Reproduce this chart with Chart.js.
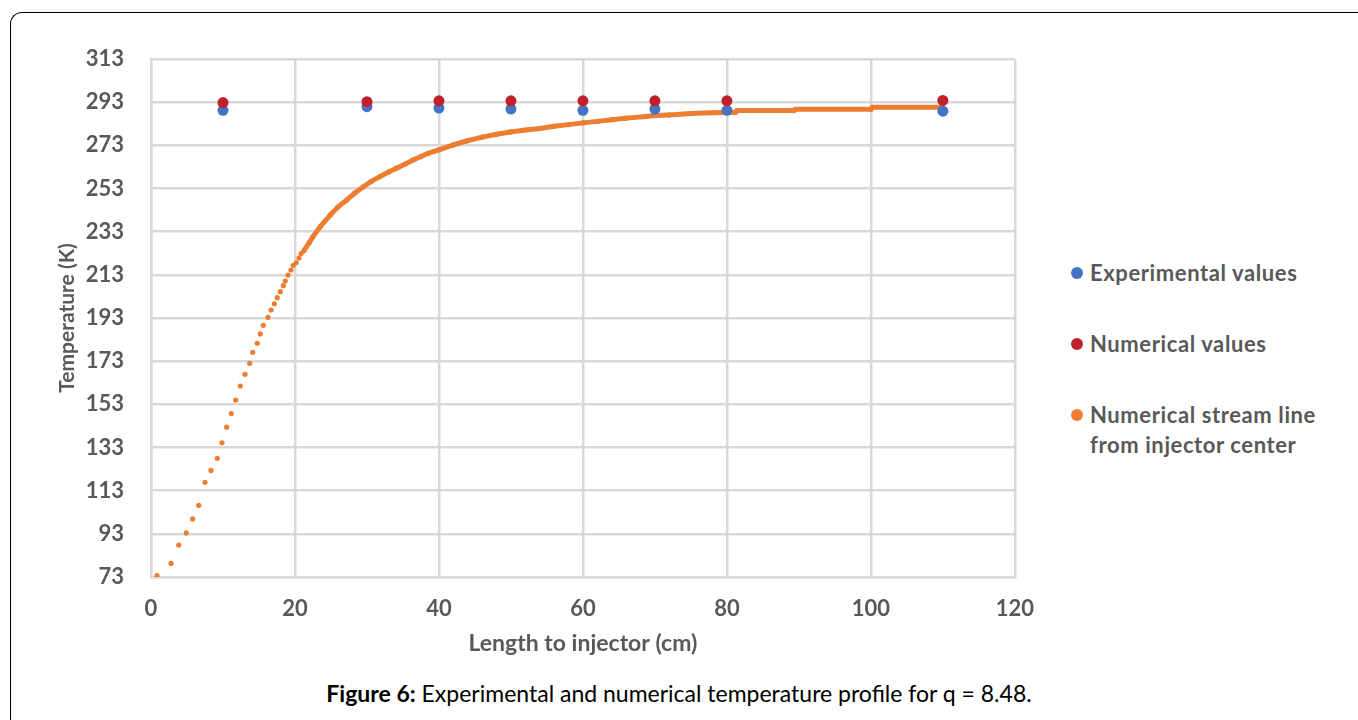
<!DOCTYPE html>
<html>
<head>
<meta charset="utf-8">
<script src="https://cdn.jsdelivr.net/npm/chart.js@4.4.1/dist/chart.umd.min.js"></script>
<style>
  html, body { margin: 0; padding: 0; background: #fff; }
  body { width: 1358px; height: 720px; position: relative; overflow: hidden; font-family: Lato, "Open Sans", sans-serif; }
  #frame { position: absolute; left: 10px; top: 12px; width: 1400px; height: 800px;
           border-top: 1.5px solid #000; border-left: 1.5px solid #000; border-top-left-radius: 12px; }
  #wrap { position: absolute; left: 0; top: 0; width: 1053px; height: 665px; }
  #legend { position: absolute; left: 1070px; top: 0; font-weight: bold; font-size: 22px; letter-spacing: 0.6px; color: #595959; }
  .item { position: absolute; left: 20px; white-space: nowrap; line-height: 30px; }
  .dot { position: absolute; left: -19px; top: 9px; width: 12px; height: 12px; border-radius: 50%; }
  #caption { position: absolute; left: 0; width: 1358px; top: 680px; text-align: center; font-size: 23px; line-height: 26px; color: #000; }
</style>
</head>
<body>
<div id="frame"></div>
<div id="wrap"><canvas id="tempChart"></canvas></div>
<div id="legend"></div>
<div id="caption"><b>Figure 6:</b> Experimental and numerical temperature profile for q = 8.48.</div>
<script>
// measurement positions (cm)
const positions = [10, 30, 40, 50, 60, 70, 80, 110];
const experimental = [289.2, 290.9, 290.3, 289.8, 289.2, 289.8, 289.2, 288.8];
const numerical = [292.8, 293.2, 293.6, 293.6, 293.6, 293.6, 293.6, 293.8];

// stream line from injector center
const streamX = [0.83, 2.78, 3.85, 4.90, 5.79, 6.63, 7.50, 8.33, 9.21, 9.86, 10.51, 11.15, 11.76, 12.40,
  13.06, 13.71, 14.13, 14.76, 15.18, 15.60, 16.25, 16.67, 17.13, 17.54, 17.96, 18.38, 18.65, 19.03,
  19.44, 19.76, 20.18, 20.56, 20.83, 21.21,
  22.0, 22.5, 23.5, 24.9, 26.0, 27.2, 28.3, 29.5, 30.6, 31.8, 33.0, 34.1, 35.3, 36.4, 37.5, 38.5,
  40.1, 42.0, 43.8, 46.0, 48.0, 49.9, 52.0, 54.0, 56.0, 58.0, 60.0, 62.0, 64.0, 66.0, 68.8, 70.0,
  72.0, 75.0, 78.0, 81.2, 81.4, 89.3, 89.5, 100.0, 100.2, 110.0];
const streamT = [73.6, 79.3, 87.8, 93.4, 99.9, 106.2, 116.9, 122.4, 128.0, 135.2, 142.4, 148.7, 155.0, 161.5,
  166.9, 172.0, 177.1, 181.3, 185.6, 189.6, 193.3, 196.7, 199.6, 202.4, 205.2, 208.0, 210.1, 212.9,
  215.2, 217.4, 218.6, 220.8, 222.8, 224.0,
  228.0, 230.7, 235.3, 240.7, 244.5, 247.7, 250.9, 253.8, 256.3, 258.5, 260.6, 262.4, 264.3, 266.2, 267.8, 269.3,
  271.0, 273.2, 275.0, 276.8, 278.1, 279.2, 280.1, 280.8, 281.8, 282.6, 283.4, 284.1, 284.9, 285.6, 286.4, 286.8,
  287.1, 287.7, 288.1, 288.3, 289.1, 289.1, 289.7, 289.7, 290.6, 290.6];

const yTicks = [73, 93, 113, 133, 153, 173, 193, 213, 233, 253, 273, 293, 313];
const xTicks = [0, 20, 40, 60, 80, 100, 120];

const seriesNames = ["Experimental values", "Numerical values", ["Numerical stream line", "from injector center"]];
const seriesColors = ["#4472C4", "#C0202A", "#ED7D31"];

const gridColor = "#D9D9D9";
const tickFont = { family: "Lato", size: 22, weight: "bold" };

new Chart(document.getElementById("tempChart"), {
    type: "scatter",
    data: {
        datasets: [{
            label: "Experimental values",
            data: positions.map((x, i) => ({ x, y: experimental[i] })),
            backgroundColor: seriesColors[0],
            pointRadius: 5.5,
            pointBorderWidth: 0,
            order: 1
        }, {
            label: "Numerical values",
            data: positions.map((x, i) => ({ x, y: numerical[i] })),
            backgroundColor: seriesColors[1],
            pointRadius: 5.5,
            pointBorderWidth: 0,
            order: 0
        }, {
            label: "Numerical stream line from injector center",
            data: streamX.map((x, i) => ({ x, y: streamT[i] })),
            backgroundColor: seriesColors[2],
            borderColor: seriesColors[2],
            pointRadius: 2.6,
            pointBorderWidth: 0,
            showLine: true,
            borderWidth: 5,
            segment: {
                // sparse dotted part near the injector has no connecting line
                borderColor: ctx => ctx.p0.parsed.x < 21 ? "transparent" : seriesColors[2]
            },
            order: 2
        }]
    },
    options: {
        responsive: true,
        maintainAspectRatio: false,
        animation: false,
        layout: { padding: { left: 55, top: 59, right: 29, bottom: 8 } },
        plugins: {
            legend: { display: false },
            tooltip: { enabled: false }
        },
        scales: {
            x: {
                type: "linear",
                min: 0,
                max: 120,
                afterBuildTicks: axis => { axis.ticks = xTicks.map(value => ({ value })); },
                afterFit: axis => { axis.height = 80; },
                grid: { color: gridColor, lineWidth: 2.5, drawTicks: false },
                border: { color: gridColor, width: 2.5 },
                ticks: { color: "#595959", font: tickFont, padding: 19, maxRotation: 0 },
                title: {
                    display: true,
                    text: "Length to injector (cm)",
                    color: "#595959",
                    font: { family: "Lato", size: 23, weight: "bold" },
                    padding: { top: 13, bottom: 0 }
                }
            },
            y: {
                min: 73,
                max: 313,
                afterBuildTicks: axis => { axis.ticks = yTicks.map(value => ({ value })); },
                afterFit: axis => { axis.width = 96; },
                grid: { color: gridColor, lineWidth: 2.5, drawTicks: false },
                border: { color: gridColor, width: 2.5 },
                ticks: { color: "#595959", font: tickFont, padding: 27 },
                title: {
                    display: true,
                    text: "Temperature (K)",
                    color: "#595959",
                    font: { family: "Lato", size: 21, weight: "bold" },
                    padding: { top: 0, bottom: 10 }
                }
            }
        }
    }
});

// legend beside the plot
const legendTops = [258, 329, 400];
const legend = document.getElementById("legend");
seriesNames.forEach((name, i) => {
    const item = document.createElement("div");
    item.className = "item";
    item.style.top = legendTops[i] + "px";
    const dot = document.createElement("span");
    dot.className = "dot";
    dot.style.background = seriesColors[i];
    item.appendChild(dot);
    (Array.isArray(name) ? name : [name]).forEach(line => {
        const t = document.createElement("div");
        t.textContent = line;
        item.appendChild(t);
    });
    legend.appendChild(item);
});
</script>
</body>
</html>
